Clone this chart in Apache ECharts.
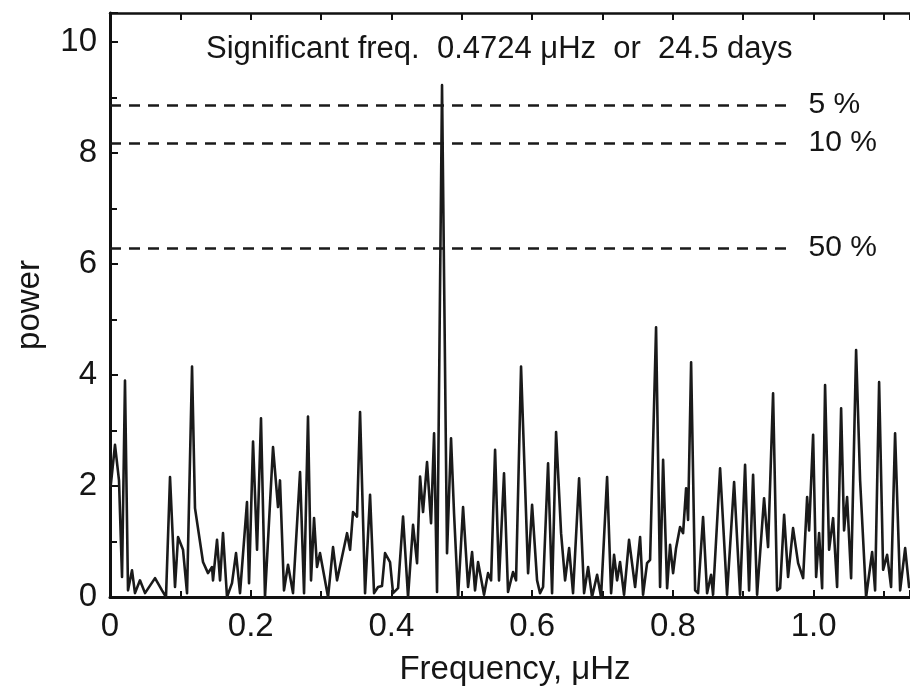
<!DOCTYPE html>
<html>
<head>
<meta charset="utf-8">
<script src="https://cdn.jsdelivr.net/npm/echarts@6/dist/echarts.min.js"></script>
<style>
html,body{margin:0;padding:0;background:#fff;}
#chart{width:910px;height:693px;}
</style>
</head>
<body>
<div id="chart"></div>
<script>
// ---- data ----
const frequency = [
  0.001,0.0071,0.0128,0.0171,0.0213,0.0256,0.0313,0.0355,0.0426,0.0498,0.0640,0.0739,0.0796,
  0.0853,0.0924,0.0967,0.1038,0.1095,0.1166,0.1208,0.1322,0.1393,0.1450,0.1464,0.1521,0.1564,
  0.1606,0.1663,0.1734,0.1791,0.1848,0.1947,0.1976,0.2033,0.2090,0.2146,0.2203,0.2317,0.2388,
  0.2416,0.2473,0.2530,0.2601,0.2701,0.2758,0.2814,0.2857,0.2900,0.2942,0.2985,0.3099,0.3170,
  0.3227,0.3369,0.3412,0.3454,0.3511,0.3554,0.3625,0.3696,0.3753,0.3810,0.3866,0.3909,0.3980,
  0.4023,0.4094,0.4165,0.4236,0.4307,0.4364,0.4407,0.4449,0.4506,0.4563,0.4606,0.4648,0.4719,
  0.4790,0.4847,0.4890,0.4947,0.5018,0.5089,0.5146,0.5188,0.5231,0.5316,0.5373,0.5416,0.5473,
  0.5529,0.5600,0.5657,0.5728,0.5771,0.5842,0.5942,0.5999,0.6070,0.6112,0.6155,0.6226,0.6283,
  0.6340,0.6411,0.6468,0.6525,0.6581,0.6667,0.6738,0.6795,0.6851,0.6923,0.6979,0.7065,0.7122,
  0.7164,0.7207,0.7249,0.7306,0.7377,0.7463,0.7534,0.7576,0.7633,0.7676,0.7761,0.7818,0.7861,
  0.7918,0.7960,0.8003,0.8045,0.8102,0.8145,0.8188,0.8216,0.8259,0.8316,0.8358,0.8429,0.8486,
  0.8543,0.8571,0.8671,0.8770,0.8870,0.8955,0.9026,0.9083,0.9140,0.9197,0.9296,0.9353,0.9424,
  0.9481,0.9524,0.9581,0.9637,0.9708,0.9780,0.9851,0.9908,0.9936,0.9993,1.0036,1.0078,1.0121,
  1.0163,1.0220,1.0277,1.0334,1.0391,1.0433,1.0476,1.0533,1.0604,1.0661,1.0746,1.0832,1.0874,
  1.0931,1.0988,1.1045,1.1101,1.1158,1.1230,1.1301,1.1357
];
const power = [
  2.00,2.74,2.10,0.36,3.90,0.12,0.48,0.07,0.30,0.07,0.34,0.12,0.00,
  2.16,0.18,1.08,0.85,0.07,4.15,1.60,0.63,0.43,0.54,0.30,1.03,0.30,
  1.15,0.00,0.25,0.79,0.07,1.71,0.25,2.80,0.85,3.22,0.00,2.70,1.62,
  2.10,0.12,0.58,0.07,2.25,0.07,3.25,0.30,1.42,0.54,0.79,0.00,0.90,
  0.30,1.15,0.85,1.53,1.45,3.33,0.07,1.84,0.07,0.18,0.20,0.79,0.63,
  0.07,0.16,1.45,0.00,1.30,0.61,2.17,1.53,2.43,1.33,2.95,0.09,9.22,
  0.79,2.86,1.50,0.00,1.62,0.18,0.81,0.12,0.63,0.04,0.43,0.30,2.65,
  0.30,2.23,0.09,0.45,0.30,4.15,0.43,1.66,0.30,0.07,0.18,2.41,0.07,
  2.97,1.15,0.30,0.88,0.07,2.14,0.07,0.54,0.00,0.40,0.00,2.16,0.07,
  0.76,0.30,0.63,0.04,1.03,0.18,1.08,0.04,0.61,0.67,4.86,0.18,2.47,
  0.16,0.94,0.43,0.88,1.26,1.15,1.96,1.39,4.23,0.12,0.07,1.44,0.07,
  0.40,0.04,2.32,0.04,2.07,0.04,2.38,0.12,2.20,0.04,1.78,0.90,3.67,
  0.12,0.16,1.48,0.36,1.24,0.61,0.34,1.80,1.20,2.92,0.36,1.15,0.16,
  3.82,0.85,1.42,0.18,3.40,1.20,1.80,0.34,4.45,2.10,0.00,0.81,0.12,
  3.87,0.49,0.76,0.18,2.95,0.12,0.88,0.18
];
const levelValues = [8.86, 8.18, 6.29];
const levelLabels = ['5 %', '10 %', '50 %'];
const levelEnd = 0.97;
const titleText = 'Significant freq.  0.4724 \u03bcHz  or  24.5 days';
const xName = 'Frequency, \u03bcHz';
const yName = 'power';

// ---- chart ----
const FONT = '"Liberation Sans", Arial, Helvetica, sans-serif';
const seriesData = frequency.map((f, i) => [f, power[i]]);
const chart = echarts.init(document.getElementById('chart'), null, {renderer: 'canvas'});

const option = {
  animation: false,
  backgroundColor: '#ffffff',
  title: {
    text: titleText,
    left: 206, top: 34, padding: 0,
    textStyle: {fontFamily: FONT, fontSize: 31, fontWeight: 'normal', color: '#151515'}
  },
  grid: {left: 110, right: 0, top: 13, bottom: 96},
  xAxis: [
    {
      type: 'value', position: 'bottom', min: 0, max: 1.137, interval: 0.2,
      name: xName, nameLocation: 'middle', nameGap: 56,
      nameTextStyle: {fontFamily: FONT, fontSize: 33, color: '#151515', padding: [0, 0, 0, 10]},
      axisLine: {show: true, lineStyle: {color: '#111', width: 3}},
      axisTick: {show: true, inside: true, length: 7, lineStyle: {color: '#111', width: 2}},
      minorTick: {show: true, splitNumber: 2, length: 6, lineStyle: {color: '#111', width: 2}},
      splitLine: {show: false},
      axisLabel: {
        fontFamily: FONT, fontSize: 33, color: '#151515', margin: 13,
        showMaxLabel: false,
        formatter: v => (v > 1.05 ? '' : (v === 0 ? '0' : v.toFixed(1)))
      }
    },
    {
      type: 'value', position: 'top', min: 0, max: 1.137, interval: 0.1,
      axisLine: {show: true, lineStyle: {color: '#111', width: 2.5}},
      axisTick: {show: true, inside: true, length: 7, lineStyle: {color: '#111', width: 2}},
      axisLabel: {show: false},
      splitLine: {show: false}
    }
  ],
  yAxis: {
    type: 'value', min: 0, max: 10.52, interval: 2,
    name: yName, nameLocation: 'middle', nameGap: 64, nameRotate: 90,
    nameTextStyle: {fontFamily: FONT, fontSize: 33, color: '#151515'},
    axisLine: {show: true, lineStyle: {color: '#111', width: 3}},
    axisTick: {show: true, inside: true, length: 8, lineStyle: {color: '#111', width: 2}},
    minorTick: {show: true, splitNumber: 2, length: 7, lineStyle: {color: '#111', width: 2}},
    splitLine: {show: false},
    axisLabel: {
      fontFamily: FONT, fontSize: 33, color: '#151515', margin: 13,
      showMaxLabel: false,
      formatter: v => (v > 10.1 ? '' : String(v))
    }
  },
  series: [
    {
      type: 'line', xAxisIndex: 0, data: seriesData,
      showSymbol: false, symbol: 'none',
      lineStyle: {color: '#1a1a1a', width: 2.6, join: 'round', cap: 'round'},
      z: 3,
      markLine: {
        silent: true, symbol: ['none', 'none'],
        lineStyle: {color: '#1a1a1a', width: 2.5, type: [11, 8]},
        label: {show: true, position: 'end', distance: 16,
          fontFamily: FONT, fontSize: 30, color: '#151515'},
        data: levelValues.map((v, i) => [
          {coord: [0, v], label: {formatter: levelLabels[i]}},
          {coord: [levelEnd, v]}
        ])
      }
    }
  ]
};
chart.setOption(option);
</script>
</body>
</html>
